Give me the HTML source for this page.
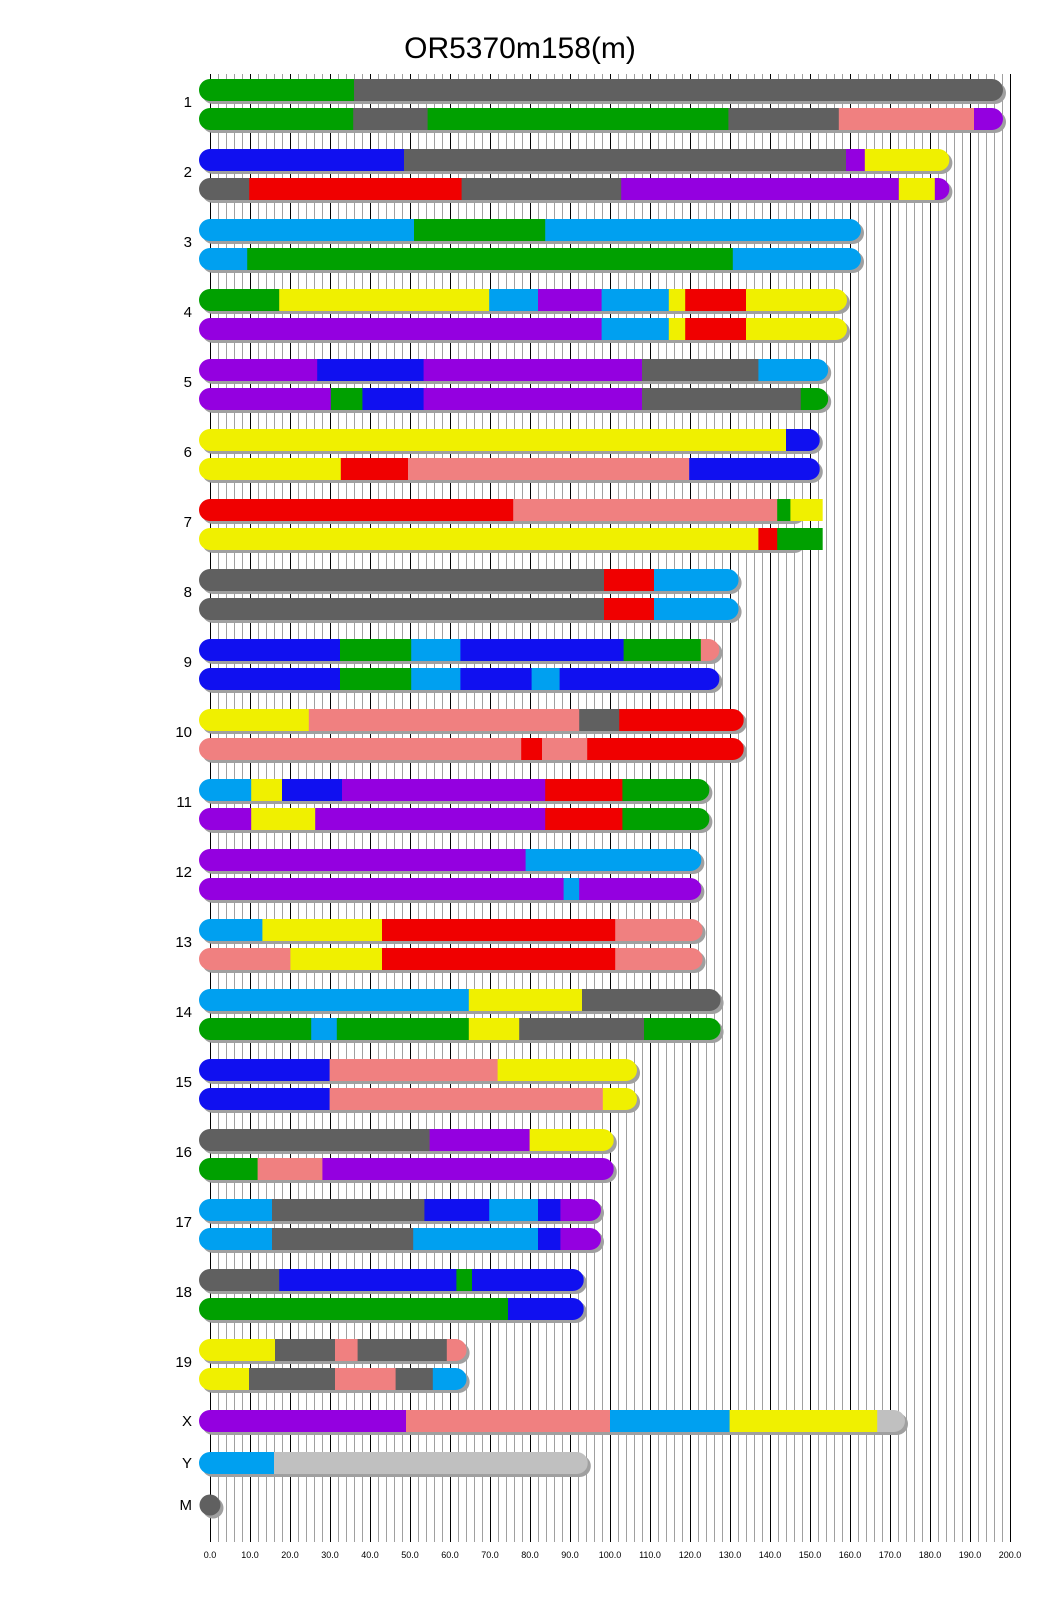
<!DOCTYPE html>
<html><head><meta charset="utf-8"><style>
html,body{margin:0;padding:0;background:#fff;}
svg{display:block;font-family:"Liberation Sans",Arial,sans-serif;}
</style></head><body>
<svg id="s" width="1040" height="1616" viewBox="0 0 1040 1616" xmlns="http://www.w3.org/2000/svg">
<g id="grid"></g>
<g id="bars"></g>
<text x="520" y="58" font-size="30" text-anchor="middle" fill="#000">OR5370m158(m)</text>
<g font-size="15" text-anchor="end" fill="#000">
<text x="192" y="107">1</text><text x="192" y="177">2</text><text x="192" y="247">3</text><text x="192" y="317">4</text>
<text x="192" y="387">5</text><text x="192" y="457">6</text><text x="192" y="527">7</text><text x="192" y="597">8</text>
<text x="192" y="667">9</text><text x="192" y="737">10</text><text x="192" y="807">11</text><text x="192" y="877">12</text>
<text x="192" y="947">13</text><text x="192" y="1017">14</text><text x="192" y="1087">15</text><text x="192" y="1157">16</text>
<text x="192" y="1227">17</text><text x="192" y="1297">18</text><text x="192" y="1367">19</text>
<text x="192" y="1426">X</text><text x="192" y="1468">Y</text><text x="192" y="1510">M</text>
</g>
<g font-size="9" text-anchor="middle" fill="#000">
<text x="210" y="1558">0.0</text><text x="250" y="1558">10.0</text><text x="290" y="1558">20.0</text><text x="330" y="1558">30.0</text>
<text x="370" y="1558">40.0</text><text x="410" y="1558">50.0</text><text x="450" y="1558">60.0</text><text x="490" y="1558">70.0</text>
<text x="530" y="1558">80.0</text><text x="570" y="1558">90.0</text><text x="610" y="1558">100.0</text><text x="650" y="1558">110.0</text>
<text x="690" y="1558">120.0</text><text x="730" y="1558">130.0</text><text x="770" y="1558">140.0</text><text x="810" y="1558">150.0</text>
<text x="850" y="1558">160.0</text><text x="890" y="1558">170.0</text><text x="930" y="1558">180.0</text><text x="970" y="1558">190.0</text>
<text x="1010" y="1558">200.0</text>
</g>
</svg>
<script>
var NS="http://www.w3.org/2000/svg";
function el(p,t,a){var e=document.createElementNS(NS,t);for(var k in a)e.setAttribute(k,a[k]);p.appendChild(e);return e;}
var G=document.getElementById('grid'),B=document.getElementById('bars');
for(var k=0;k<=100;k++){var x=210+8*k+0.5;el(G,'line',{x1:x,x2:x,y1:74,y2:1542,stroke:k%5==0?'#000':'#a0a0a0','stroke-width':1});}
var C={g:'#00a000',k:'#606060',s:'#f08080',p:'#9400e0',b:'#1010f0',y:'#f0f000',r:'#f00000',c:'#00a0f0',l:'#c0c0c0'};
var U=4,X0=210,R=11,H=22;
var id=0;
function bar(top,L,segs){
  var x0=X0-R,x1=X0+U*L+R;
  var ext=segs[segs.length-1][1];
  el(B,'rect',{x:x0+3,y:top+3,width:x1-x0,height:H,rx:R,ry:R,fill:'#a0a0a0'});
  var cid='c'+(id++);
  var cp=el(B,'clipPath',{id:cid});
  el(cp,'rect',{x:x0,y:top,width:x1-x0,height:H,rx:R,ry:R});
  var xe=X0+U*ext;
  if(xe>x1-R) el(cp,'rect',{x:x1-R-1,y:top,width:xe-(x1-R-1),height:H});
  var g=el(B,'g',{'clip-path':'url(#'+cid+')'});
  var start=0;
  for(var i=0;i<segs.length;i++){
    var a=i==0?x0:X0+U*start, e=segs[i][1];
    var b=(i==segs.length-1)?Math.max(x1,X0+U*e):X0+U*e;
    el(g,'rect',{x:a,y:top,width:b-a+(i==segs.length-1?0:0.5),height:H,fill:C[segs[i][0]]});
    start=e;
  }
}
var D=[
[195.5,[['g',36],['k',195.5]],[['g',35.8],['k',54.4],['g',129.6],['k',157.2],['s',191],['p',195.5]]],
[182.1,[['b',48.5],['k',159],['p',163.7],['y',182.1]],[['k',9.8],['r',62.9],['k',102.8],['p',172.2],['y',181.2],['p',182.1]]],
[160,[['c',51],['g',83.8],['c',160]],[['c',9.3],['g',130.7],['c',160]]],
[156.5,[['g',17.3],['y',69.8],['c',82],['p',97.9],['c',114.7],['y',118.8],['r',134],['y',156.5]],[['p',97.9],['c',114.7],['y',118.8],['r',134],['y',156.5]]],
[151.8,[['p',26.8],['b',53.4],['p',108],['k',137.1],['c',151.8]],[['p',30.2],['g',38.1],['b',53.4],['p',108],['k',147.7],['g',151.8]]],
[149.7,[['y',144],['b',149.7]],[['y',32.7],['r',49.5],['s',119.8],['b',149.7]]],
[145.4,[['r',75.8],['s',141.8],['g',145.1],['y',153.2]],[['y',137.1],['r',141.8],['g',153.2]]],
[129.4,[['k',98.5],['r',111],['c',129.4]],[['k',98.5],['r',111],['c',129.4]]],
[124.6,[['b',32.5],['g',50.3],['c',62.6],['b',103.4],['g',122.7],['s',124.6]],[['b',32.5],['g',50.3],['c',62.6],['b',80.4],['c',87.4],['b',124.6]]],
[130.7,[['y',24.7],['s',92.3],['k',102.3],['r',130.7]],[['s',77.8],['r',83],['s',94.3],['r',130.7]]],
[122.1,[['c',10.3],['y',18],['b',33],['p',83.8],['r',103.1],['g',122.1]],[['p',10.3],['y',26.3],['p',83.8],['r',103.1],['g',122.1]]],
[120.1,[['p',78.9],['c',120.1]],[['p',88.4],['c',92.3],['p',120.1]]],
[120.4,[['c',13.1],['y',43],['r',101.3],['s',120.4]],[['s',20.1],['y',43],['r',101.3],['s',120.4]]],
[124.9,[['c',64.7],['y',93],['k',124.9]],[['g',25.3],['c',31.7],['g',64.7],['y',77.3],['k',108.5],['g',124.9]]],
[104.0,[['b',29.9],['s',71.9],['y',104]],[['b',29.9],['s',98.2],['y',104]]],
[98.2,[['k',54.9],['p',79.9],['y',98.2]],[['g',11.9],['s',28.1],['p',98.2]]],
[95.0,[['c',15.5],['k',53.6],['b',69.8],['c',82],['b',87.6],['p',95]],[['c',15.5],['k',50.8],['c',82],['b',87.6],['p',95]]],
[90.7,[['k',17.3],['b',61.6],['g',65.5],['b',90.7]],[['g',74.5],['b',90.7]]],
[61.4,[['y',16.25],['k',31.25],['s',36.9],['k',59.2],['s',61.4]],[['y',9.75],['k',31.25],['s',46.4],['k',55.7],['c',61.4]]]
];
for(var i=0;i<D.length;i++){var t=79+70*i;bar(t,D[i][0],D[i][1]);bar(t+29,D[i][0],D[i][2]);}
bar(1410,171.0,[['p',49],['s',100],['c',129.9],['y',166.8],['l',171]]);
bar(1452,91.7,[['c',16],['l',91.7]]);
el(B,'circle',{cx:213,cy:1508,r:10.5,fill:'#a0a0a0'});
el(B,'circle',{cx:210,cy:1505,r:10.5,fill:'#606060'});
</script>
</body></html>
